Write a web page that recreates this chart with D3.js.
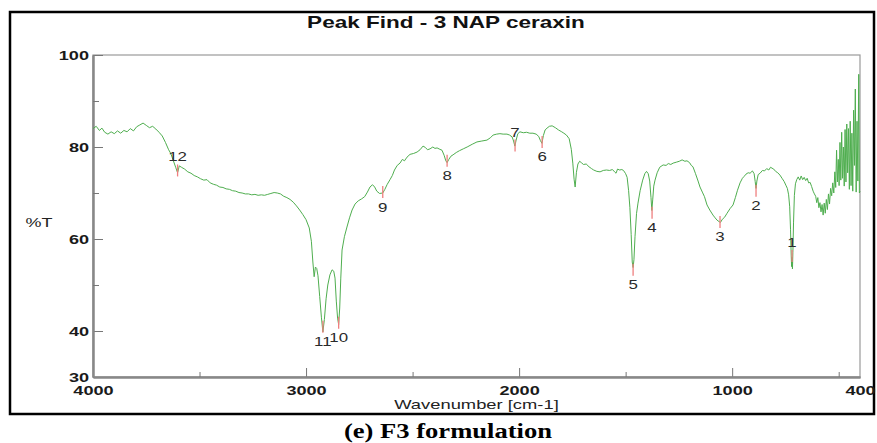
<!DOCTYPE html>
<html>
<head>
<meta charset="utf-8">
<script src="https://cdn.jsdelivr.net/npm/d3@7"></script>
<style>
  body { margin: 0; background: #fff; }
  svg { display: block; }
  text { font-family: "Liberation Sans", Arial, Helvetica, sans-serif; }
  .caption { font-family: "Liberation Serif", "Times New Roman", serif; }
</style>
</head>
<body>
<div id="chart"></div>
<script>
// spectrum: [wavenumber cm-1, %T]
var band4000_3000 = [
  [4000,84.0],[3985,84.5],[3970,83.6],[3958,84.1],[3945,83.2],[3930,82.8],[3915,83.3],[3900,82.9],
  [3885,83.5],[3870,83.0],[3855,83.6],[3840,83.3],[3825,84.0],[3810,83.5],[3795,84.4],[3780,84.8],
  [3765,85.2],[3750,84.7],[3735,84.2],[3720,84.5],[3705,83.9],[3690,83.2],[3675,82.4],[3660,81.0],
  [3645,79.4],[3635,78.6],[3625,77.3],[3612,75.6],[3603,74.4],[3595,75.9],[3585,75.6],[3570,75.2],
  [3555,74.6],[3540,74.3],[3525,73.8],[3510,73.5],[3495,73.1],[3480,72.8],[3465,72.9],[3450,72.2],
  [3435,71.9],[3420,71.7],[3405,71.3],[3390,71.2],[3375,70.9],[3360,70.8],[3345,70.5],[3330,70.4],
  [3315,70.1],[3300,70.0],[3285,69.8],[3270,69.8],[3255,69.6],[3240,69.7],[3225,69.5],[3210,69.6],
  [3195,69.5],[3180,69.7],[3165,69.9],[3150,70.1],[3135,70.0],[3120,69.8],[3105,69.3],[3090,69.0],
  [3075,68.6],[3060,68.0],[3045,67.2],[3030,66.3],[3015,65.3],[3000,64.2]
];
var band3000_2600 = [
  [2985,62.4],[2975,59.5],[2968,55.0],[2962,51.8],[2956,53.9],[2950,53.6],[2944,52.0],[2936,47.5],
  [2928,43.0],[2921,39.8],[2914,42.5],[2906,47.0],[2898,50.0],[2888,52.2],[2878,53.3],[2870,53.0],
  [2864,51.5],[2858,46.5],[2852,42.8],[2847,41.4],[2842,45.0],[2837,51.5],[2831,57.6],[2820,60.5],
  [2808,62.6],[2796,64.6],[2784,66.3],[2770,67.6],[2755,68.3],[2740,68.7],[2725,69.2],[2712,70.2],
  [2700,71.3],[2688,71.8],[2678,71.3],[2668,70.4],[2655,69.9],[2640,70.0],[2630,70.8],[2620,71.8],
  [2606,72.9]
];
var band2600_1650 = [
  [2595,73.8],[2585,75.0],[2572,76.0],[2559,76.5],[2548,77.3],[2538,77.0],[2526,77.8],[2512,78.4],
  [2495,78.6],[2479,78.9],[2465,79.4],[2451,80.2],[2440,79.9],[2430,79.4],[2418,79.6],[2405,80.0],
  [2395,79.7],[2385,79.8],[2372,79.5],[2362,79.3],[2352,78.2],[2344,77.0],[2338,76.6],[2330,77.3],
  [2320,78.0],[2310,78.3],[2295,78.8],[2280,79.2],[2262,79.6],[2244,80.0],[2220,80.6],[2198,81.1],
  [2175,81.3],[2151,81.5],[2135,82.0],[2122,82.6],[2105,82.8],[2090,82.9],[2075,82.8],[2057,82.8],
  [2045,82.6],[2033,82.2],[2026,81.3],[2020,80.2],[2014,81.5],[2006,82.9],[1996,83.3],[1980,83.1],
  [1965,83.2],[1950,83.0],[1935,83.0],[1920,82.8],[1908,82.3],[1900,81.4],[1893,80.8],[1886,82.5],
  [1878,83.7],[1869,84.1],[1858,84.5],[1845,84.6],[1830,84.2],[1815,83.7],[1800,83.3],[1790,83.0],
  [1778,82.6],[1765,81.8],[1755,79.5],[1748,76.5],[1742,73.0],[1737,71.3],[1731,74.5],[1724,76.3],
  [1716,76.9],[1708,76.6],[1698,76.2],[1685,76.3],[1672,75.7],[1660,75.3],[1650,75.0]
];
var band1650_950 = [
  [1635,74.7],[1620,74.6],[1605,74.9],[1590,75.0],[1575,74.9],[1562,75.1],[1552,74.6],[1545,74.3],
  [1538,75.2],[1528,75.0],[1518,75.1],[1510,74.9],[1500,74.2],[1493,73.4],[1486,70.5],[1480,66.8],
  [1474,61.0],[1469,55.0],[1465,53.8],[1461,55.5],[1456,60.5],[1449,65.5],[1442,67.8],[1432,70.5],
  [1420,72.8],[1410,74.2],[1402,74.7],[1394,74.2],[1387,72.6],[1381,69.0],[1377,66.2],[1373,68.5],
  [1368,71.5],[1362,72.8],[1352,74.4],[1340,75.6],[1324,76.1],[1310,76.0],[1300,76.4],[1288,76.2],
  [1277,76.5],[1262,76.7],[1248,76.9],[1235,77.2],[1222,76.9],[1212,77.0],[1200,76.6],[1192,76.0],
  [1184,75.7],[1172,74.2],[1160,72.6],[1151,71.3],[1140,70.2],[1130,69.2],[1118,67.4],[1105,66.3],
  [1090,65.2],[1080,64.6],[1071,64.1],[1062,63.8],[1055,63.6],[1046,64.3],[1036,64.7],[1024,65.6],
  [1010,66.6],[996,67.4],[985,69.0],[975,70.6],[963,72.2],[952,73.2]
];
var band950_400 = [
  [944,73.6],[935,74.1],[925,74.4],[916,74.3],[905,74.8],[897,74.2],[892,72.5],[888,71.0],
  [884,72.6],[878,74.0],[869,74.3],[858,74.9],[848,74.8],[838,75.3],[828,75.0],[820,75.6],
  [813,75.4],[805,75.2],[796,74.7],[786,74.4],[776,73.9],[766,73.2],[756,72.5],[748,71.7],
  [741,71.0],[735,69.6],[730,67.0],[726,62.0],[723,56.5],[721,54.0],[719,56.0],[717,53.5],
  [715,57.0],[712,63.5],[708,69.5],[703,72.0],[697,72.9],[690,73.5],[683,72.8],[676,73.7],
  [669,72.9],[662,73.4],[655,72.7],[648,73.2],[641,72.2],[634,72.3],[627,71.4],[620,70.4],
  [614,69.8],[608,69.3],[603,67.9],[598,69.0],[593,66.8],[588,67.9],[583,65.9],[578,67.5],
  [573,65.2],[568,67.8],[563,65.6],[558,68.6],[553,66.4],[548,69.8],[543,67.6],[538,71.0],
  [533,69.4],[528,72.2],[523,70.0],[518,74.6],[514,71.2],[510,79.3],[506,72.4],[502,77.3],
  [498,71.6],[494,81.0],[490,72.8],[486,83.2],[482,73.2],[478,80.0],[474,71.5],[470,83.8],
  [466,72.4],[462,85.0],[458,74.4],[454,84.0],[450,70.8],[446,85.6],[442,71.6],[438,83.0],
  [434,70.4],[430,88.0],[426,76.0],[422,92.6],[418,70.2],[414,85.6],[410,72.6],[406,95.8],
  [403,70.0],[400,70.4]
];

// peak picks
var peakNo = [1, 2, 3, 4, 5, 6, 7, 8, 9, 10, 11, 12];
var peakWn = [719, 888, 1057, 1376, 1465, 1892, 2019, 2338, 2640, 2847, 2921, 3603];
var peakT  = [56.3, 70.5, 63.7, 65.7, 53.3, 81.1, 80.3, 77.0, 70.2, 41.8, 40.9, 74.9];
var labelAbove = [1, 7, 12];

// axis ticks
var xLabelTicks = [4000, 3000, 2000, 1000, 400];
var xMinorTicks = [3500, 2500, 1500, 500];
var yLabelTicks = [30, 40, 60, 80, 100];
var yMinorTicks = [50, 70, 90];

var titleText = "Peak Find - 3 NAP ceraxin";
var xTitle = "Wavenumber [cm-1]";
var yTitle = "%T";
var captionText = "(e) F3 formulation";

var W = 877, H = 443;
var L = 93, R = 860, T = 55, B = 377;
var K = 1.45; // text in the picture is wide, stretch it horizontally

var spectrum = band4000_3000.concat(band3000_2600, band2600_1650, band1650_950, band950_400);

var x = d3.scaleLinear().domain([4000, 400]).range([L, R]);
var y = d3.scaleLinear().domain([30, 100]).range([B, T]);

var svg = d3.select("#chart").append("svg").attr("width", W).attr("height", H);
svg.append("rect").attr("width", W).attr("height", H).attr("fill", "#fff");

function stretch(sel, k) {
    sel.attr("transform", function() {
        var x0 = +d3.select(this).attr("x") || 0;
        return "translate(" + (x0 * (1 - k)) + ",0) scale(" + k + ",1)";
    });
}

// outer black box
svg.append("rect")
    .attr("x", 10).attr("y", 12).attr("width", 864).attr("height", 402)
    .attr("fill", "none").attr("stroke", "#000").attr("stroke-width", 2.5);

// title
var tt = svg.append("text").attr("x", 446).attr("y", 28)
    .attr("text-anchor", "middle").attr("font-size", 16).attr("font-weight", "bold")
    .attr("fill", "#111").text(titleText);
stretch(tt, 1.41);

// plot frame
svg.append("rect").attr("x", L).attr("y", T).attr("width", R - L).attr("height", B - T)
    .attr("fill", "none").attr("stroke", "#9a9a9a").attr("stroke-width", 1.2);

// y axis
var gy = svg.append("g").attr("transform", "translate(" + L + ",0)");
gy.call(d3.axisLeft(y).tickValues(yLabelTicks).tickSizeInner(-10).tickSizeOuter(0).tickPadding(4)
    .tickFormat(d3.format("d")));
gy.append("g").call(d3.axisLeft(y).tickValues(yMinorTicks).tickSizeInner(-6).tickSizeOuter(0)
    .tickFormat(""));
gy.selectAll(".domain").attr("stroke", "#888").attr("stroke-width", 2);
gy.selectAll(".tick line").attr("stroke", "#777").attr("stroke-width", 1);
gy.selectAll(".tick text").attr("font-size", 12.5).attr("font-weight", "bold").attr("fill", "#1a1a1a")
    .attr("font-family", "Liberation Sans, Arial, sans-serif");
stretch(gy.selectAll(".tick text"), K);

// x axis
var gx = svg.append("g").attr("transform", "translate(0," + B + ")");
gx.call(d3.axisBottom(x).tickValues(xLabelTicks).tickSizeInner(-9).tickSizeOuter(0).tickPadding(9)
    .tickFormat(d3.format("d")));
gx.append("g").call(d3.axisBottom(x).tickValues(xMinorTicks).tickSizeInner(-5).tickSizeOuter(0)
    .tickFormat(""));
gx.selectAll(".domain").attr("stroke", "#888").attr("stroke-width", 2);
gx.selectAll(".tick line").attr("stroke", "#777").attr("stroke-width", 1);
gx.selectAll(".tick").filter(function(d) { return d === 4000 || d === 400; }).select("line").remove();
gx.selectAll(".tick text").attr("font-size", 12.5).attr("font-weight", "bold").attr("fill", "#1a1a1a")
    .attr("font-family", "Liberation Sans, Arial, sans-serif");
stretch(gx.selectAll(".tick text"), K);

// axis titles
var xt = svg.append("text").attr("x", (L + R) / 2).attr("y", 409.5)
    .attr("text-anchor", "middle").attr("font-size", 12).attr("fill", "#222").text(xTitle);
stretch(xt, 1.53);
var yt = svg.append("text").attr("x", 39).attr("y", 227)
    .attr("text-anchor", "middle").attr("font-size", 12).attr("fill", "#222").text(yTitle);
stretch(yt, 1.5);

// spectrum line
var line = d3.line().x(function(d) { return x(d[0]); }).y(function(d) { return y(d[1]); });
svg.append("path").datum(spectrum).attr("d", line)
    .attr("fill", "none").attr("stroke", "#4fae4f").attr("stroke-width", 1)
    .attr("stroke-linejoin", "round");

// peak marks
var peaks = peakNo.map(function(n, i) { return { n: n, wn: peakWn[i], t: peakT[i] }; });
var gp = svg.append("g");
gp.selectAll("line").data(peaks).enter().append("line")
    .attr("x1", function(d) { return x(d.wn); }).attr("x2", function(d) { return x(d.wn); })
    .attr("y1", function(d) { return y(d.t) - 6; }).attr("y2", function(d) { return y(d.t) + 6; })
    .attr("stroke", "#ef7f7f").attr("stroke-width", 1.3);
var pl = gp.selectAll("text").data(peaks).enter().append("text")
    .attr("x", function(d) { return x(d.wn); })
    .attr("y", function(d) { return labelAbove.indexOf(d.n) >= 0 ? y(d.t) - 9 : y(d.t) + 19.5; })
    .attr("text-anchor", "middle").attr("font-size", 12.5).attr("fill", "#2a2a2a")
    .text(function(d) { return d.n; });
stretch(pl, 1.35);

// caption under the box
var cp = svg.append("text").attr("class", "caption").attr("x", 448).attr("y", 438.5)
    .attr("text-anchor", "middle").attr("font-size", 20).attr("font-weight", "bold")
    .attr("fill", "#000").text(captionText);
stretch(cp, 1.33);
</script>
</body>
</html>
